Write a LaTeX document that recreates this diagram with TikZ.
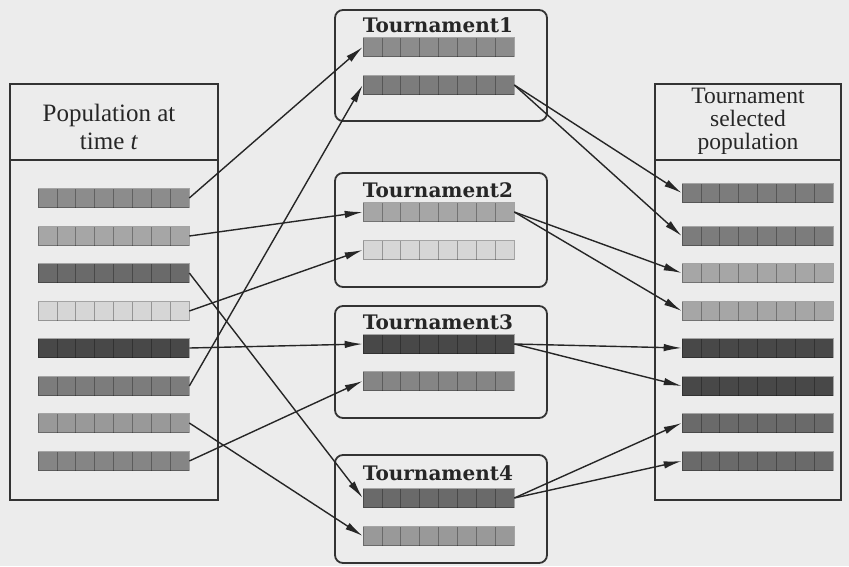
\documentclass[tikz,border=0pt]{standalone}
\usepackage{fontspec}
\setmainfont{Liberation Serif}
\newfontfamily\titlefont{DejaVu Serif}
\usetikzlibrary{arrows.meta}
\definecolor{bg}{HTML}{ECECEC}
\definecolor{frame}{HTML}{333333}
\definecolor{ca}{HTML}{8C8C8C}
\definecolor{cb}{HTML}{A6A6A6}
\definecolor{cc}{HTML}{6A6A6A}
\definecolor{cd}{HTML}{D6D6D6}
\definecolor{ce}{HTML}{484848}
\definecolor{cf}{HTML}{7C7C7C}
\definecolor{cg}{HTML}{999999}
\definecolor{ch}{HTML}{858585}
\tikzset{
  chromo/.style={draw=black, draw opacity=0.3, line width=0.6pt, fill=#1,
    minimum width=151pt, minimum height=19pt, inner sep=0pt,
    path picture={\foreach \k in {1,...,7}
      \draw[black, opacity=0.3, line width=0.7pt]
        ([xshift=\k*18.875pt]path picture bounding box.south west) --
        ([xshift=\k*18.875pt]path picture bounding box.north west);}},
  popbox/.style={draw=frame, line width=1.8pt, inner sep=0pt},
  tourbox/.style={draw=frame, line width=1.8pt, rounded corners=8pt, inner sep=0pt, minimum width=212pt},
  tourtitle/.style={font=\titlefont\bfseries\fontsize{20}{22}\selectfont, inner sep=0pt, text=black!85},
  label/.style={font=\fontsize{25}{28}\selectfont, align=center, inner sep=0pt, text=black!85},
  link/.style={draw=black!85, line width=1.4pt, -{Latex[length=18pt,width=7.5pt]}},
}
\begin{document}
\begin{tikzpicture}[x=1pt,y=-1pt]
\fill[bg] (0,0) rectangle (849,566);
\useasboundingbox (0,0) rectangle (849,566);

% population boxes
\node[popbox, minimum width=208pt, minimum height=416pt] (leftbox) at (114,292) {};
\draw[frame, line width=1.6pt] (10,160) -- (218,160);
\node[label] (lefttext) at (109,127) {Population at\\time \textit{t}};

\node[popbox, minimum width=186pt, minimum height=416pt] (rightbox) at (748,292) {};
\draw[frame, line width=1.6pt] (655,160) -- (841,160);
\node[label, font=\fontsize{23.5}{23}\selectfont] (righttext) at (748,121) {Tournament\\selected\\population};

% tournament boxes
\node[tourbox, minimum height=111pt] (T1) at (441,65.5) {};
\node[tourbox, minimum height=114pt] (T2) at (441,230) {};
\node[tourbox, minimum height=112pt] (T3) at (441,362) {};
\node[tourbox, minimum height=108pt] (T4) at (441,509) {};
\node[tourtitle] (t1) at (438,25) {Tournament1};
\node[tourtitle] (t2) at (438,190) {Tournament2};
\node[tourtitle] (t3) at (438,322) {Tournament3};
\node[tourtitle] (t4) at (438,473) {Tournament4};

% left population
\node[chromo=ca] (L1) at (113.5,198) {};
\node[chromo=cb] (L2) at (113.5,236) {};
\node[chromo=cc] (L3) at (113.5,273) {};
\node[chromo=cd] (L4) at (113.5,311) {};
\node[chromo=ce] (L5) at (113.5,348) {};
\node[chromo=cf] (L6) at (113.5,386) {};
\node[chromo=cg] (L7) at (113.5,423) {};
\node[chromo=ch] (L8) at (113.5,461) {};

% tournaments
\node[chromo=ca] (A1) at (438.5,47) {};
\node[chromo=cf] (A2) at (438.5,85) {};
\node[chromo=cb] (B1) at (438.5,212) {};
\node[chromo=cd] (B2) at (438.5,250) {};
\node[chromo=ce] (C1) at (438.5,344) {};
\node[chromo=ch] (C2) at (438.5,381) {};
\node[chromo=cc] (D1) at (438.5,498) {};
\node[chromo=cg] (D2) at (438.5,536) {};

% selected population
\node[chromo=cf] (R1) at (757.5,193) {};
\node[chromo=cf] (R2) at (757.5,236) {};
\node[chromo=cb] (R3) at (757.5,273) {};
\node[chromo=cb] (R4) at (757.5,311) {};
\node[chromo=ce] (R5) at (757.5,348) {};
\node[chromo=ce] (R6) at (757.5,386) {};
\node[chromo=cc] (R7) at (757.5,423) {};
\node[chromo=cc] (R8) at (757.5,461) {};

% links into tournaments
\draw[link] (L1.east) -- (A1.west);
\draw[link] (L6.east) -- (A2.west);
\draw[link] (L2.east) -- (B1.west);
\draw[link] (L4.east) -- (B2.west);
\draw[link] (L5.east) -- (C1.west);
\draw[link] (L8.east) -- (C2.west);
\draw[link] (L3.east) -- (D1.west);
\draw[link] (L7.east) -- (D2.west);

% links out of tournaments
\draw[link] (A2.east) -- (R1.west);
\draw[link] (A2.east) -- (R2.west);
\draw[link] (B1.east) -- (R3.west);
\draw[link] (B1.east) -- (R4.west);
\draw[link] (C1.east) -- (R5.west);
\draw[link] (C1.east) -- (R6.west);
\draw[link] (D1.east) -- (R7.west);
\draw[link] (D1.east) -- (R8.west);
\end{tikzpicture}
\end{document}
